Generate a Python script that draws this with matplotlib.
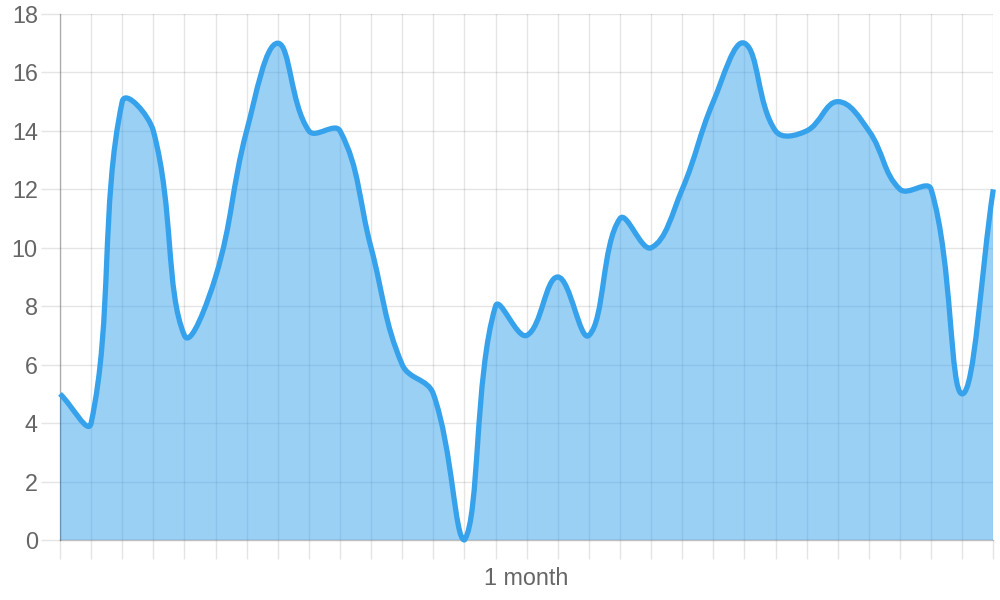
import numpy as np
import matplotlib
matplotlib.use("Agg")
import matplotlib.pyplot as plt
from matplotlib.path import Path
from matplotlib.patches import PathPatch

plt.rcParams['font.family'] = ['Liberation Sans', 'DejaVu Sans']

# datos (un valor por dia)
valores = [5, 4, 15, 14, 7, 9, 14, 17, 14, 14, 10, 6, 5, 0, 8, 7,
           9, 7, 11, 10, 12, 15, 17, 14, 14, 15, 14, 12, 12, 5, 12]
dias = np.arange(len(valores))
yticks = np.arange(0, 19, 2)
etiqueta_x = "1 month"

linea = "#36A2EB"
relleno = (54/255, 162/255, 235/255, 0.5)
gris_eje = (0, 0, 0, 0.25)
gris_texto = "#666666"


def curva_spline(ax, x, y, t=0.4):
    # curva tipo chart.js (tension 0.4), calculada en pixeles
    pts = ax.transData.transform(np.column_stack([x, y]))
    x0, y0 = ax.transData.transform((0, 0))
    x1, y1 = ax.transData.transform((x[-1], 18))
    n = len(pts)
    cp_prev = np.zeros_like(pts)
    cp_next = np.zeros_like(pts)
    for i in range(n):
        cur = pts[i]
        prv = pts[i - 1] if i > 0 else cur
        nxt = pts[i + 1] if i < n - 1 else cur
        d01 = np.hypot(*(cur - prv))
        d12 = np.hypot(*(nxt - cur))
        tot = d01 + d12
        s01 = d01 / tot if tot else 0
        s12 = d12 / tot if tot else 0
        cp_prev[i] = cur - t * s01 * (nxt - prv)
        cp_next[i] = cur + t * s12 * (nxt - prv)
    # limitar puntos de control al area del grafico
    for cp in (cp_prev, cp_next):
        cp[:, 0] = np.clip(cp[:, 0], x0, x1)
        cp[:, 1] = np.clip(cp[:, 1], y0, y1)
    inv = ax.transData.inverted()
    verts = [pts[0]]
    codes = [Path.MOVETO]
    for i in range(n - 1):
        verts += [cp_next[i], cp_prev[i + 1], pts[i + 1]]
        codes += [Path.CURVE4] * 3
    verts = inv.transform(np.array(verts))
    return verts, codes


fig = plt.figure(figsize=(10, 6), dpi=100)
ax = fig.add_axes([0.06, 0.1, 0.9333, 0.8767])
ax.set_xlim(0, len(valores) - 1)
ax.set_ylim(0, 18)

verts, codes = curva_spline(ax, dias, valores)

# relleno bajo la curva
v_fill = np.vstack([verts, [[dias[-1], 0], [0, 0], [0, 0]]])
c_fill = codes + [Path.LINETO, Path.LINETO, Path.CLOSEPOLY]
ax.add_patch(PathPatch(Path(v_fill, c_fill), facecolor=relleno,
                       edgecolor='none', zorder=2))
ax.add_patch(PathPatch(Path(verts, codes), facecolor='none', edgecolor=linea,
                       lw=3.8, capstyle='butt', joinstyle='round', zorder=3,
                       clip_on=False))

ax.set_xticks(dias)
ax.set_xticklabels([])
ax.set_yticks(yticks)
ax.set_yticklabels([str(v) for v in yticks])
ax.grid(True, color='black', alpha=0.1, lw=1, zorder=0)
ax.set_axisbelow(True)

ax.tick_params(axis='both', length=14, width=1, color='#e5e5e5',
               labelsize=16.8, labelcolor=gris_texto)
ax.tick_params(axis='y', pad=2)
ax.xaxis.get_major_ticks()[0].tick1line.set_color('#bfbfbf')
ax.yaxis.get_major_ticks()[0].tick1line.set_color('#bfbfbf')

for s in ['top', 'right']:
    ax.spines[s].set_visible(False)
for s in ['left', 'bottom']:
    ax.spines[s].set_color(gris_eje)
    ax.spines[s].set_linewidth(1)

ax.set_xlabel(etiqueta_x, fontsize=16.8, color=gris_texto, labelpad=2)

fig.savefig("out.png", dpi=100)
